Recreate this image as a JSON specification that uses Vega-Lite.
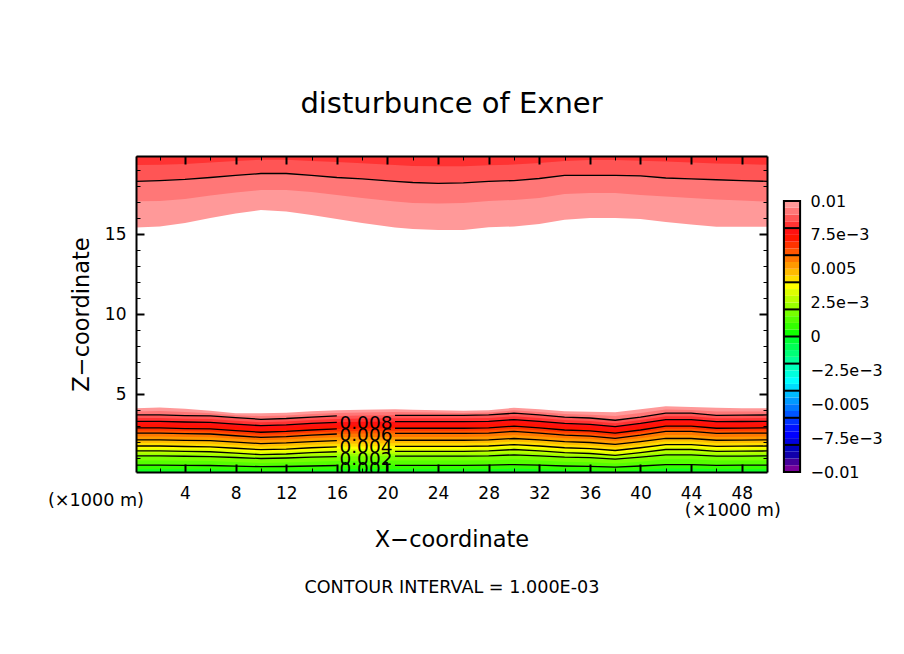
{
  "$schema": "https://vega.github.io/schema/vega-lite/v6.json",
  "background": "white",
  "padding": {"left": 47, "top": 90, "right": 0, "bottom": 0},
  "config": {
    "font": "DejaVu Sans",
    "view": {"stroke": null},
    "axis": {"grid": false, "labelColor": "black", "titleColor": "black", "titleFontWeight": "normal", "labelFontSize": 17, "titleFontSize": 22.5}
  },
  "title": {"text": "CONTOUR INTERVAL = 1.000E-03", "orient": "bottom", "anchor": "start", "dx": 256.5, "offset": 28, "fontSize": 17.6, "fontWeight": "normal", "color": "black"},
  "resolve": {"scale": {"color": "independent"}},
  "datasets": {
    "field": [
      {"x":0.125,"c100":4.11,"c095":3.91,"c090":3.69,"c085":3.5,"c080":3.29,"c075":3.09,"c070":2.88,"c065":2.72,"c060":2.56,"c055":2.34,"c050":2.13,"c045":1.94,"c040":1.75,"c035":1.59,"c030":1.44,"c025":1.28,"c020":1.13,"c015":0.85,"c010":0.55,"c005":0.3,"t100":15.41,"t095":17.04,"t090":18.29,"t085":19.31},
      {"x":2,"c100":4.15,"c095":3.93,"c090":3.69,"c085":3.5,"c080":3.29,"c075":3.09,"c070":2.88,"c065":2.72,"c060":2.56,"c055":2.34,"c050":2.13,"c045":1.94,"c040":1.75,"c035":1.59,"c030":1.44,"c025":1.28,"c020":1.13,"c015":0.85,"c010":0.55,"c005":0.3,"t100":15.47,"t095":17.06,"t090":18.34,"t085":19.33},
      {"x":4,"c100":4.08,"c095":3.88,"c090":3.65,"c085":3.46,"c080":3.25,"c075":3.05,"c070":2.84,"c065":2.68,"c060":2.52,"c055":2.31,"c050":2.1,"c045":1.91,"c040":1.72,"c035":1.56,"c030":1.41,"c025":1.26,"c020":1.11,"c015":0.83,"c010":0.54,"c005":0.29,"t100":15.69,"t095":17.19,"t090":18.41,"t085":19.38},
      {"x":6,"c100":3.95,"c095":3.8,"c090":3.63,"c085":3.44,"c080":3.23,"c075":3.03,"c070":2.82,"c065":2.66,"c060":2.5,"c055":2.29,"c050":2.08,"c045":1.89,"c040":1.7,"c035":1.54,"c030":1.39,"c025":1.24,"c020":1.09,"c015":0.81,"c010":0.53,"c005":0.28,"t100":16.0,"t095":17.41,"t090":18.53,"t085":19.47},
      {"x":8,"c100":3.8,"c095":3.67,"c090":3.52,"c085":3.33,"c080":3.12,"c075":2.92,"c070":2.71,"c065":2.55,"c060":2.39,"c055":2.2,"c050":1.99,"c045":1.8,"c040":1.61,"c035":1.45,"c030":1.3,"c025":1.18,"c020":1.03,"c015":0.75,"c010":0.49,"c005":0.24,"t100":16.28,"t095":17.59,"t090":18.66,"t085":19.56},
      {"x":10,"c100":3.8,"c095":3.62,"c090":3.42,"c085":3.23,"c080":3.02,"c075":2.82,"c070":2.61,"c065":2.45,"c060":2.29,"c055":2.11,"c050":1.9,"c045":1.71,"c040":1.52,"c035":1.36,"c030":1.21,"c025":1.12,"c020":0.97,"c015":0.69,"c010":0.46,"c005":0.21,"t100":16.5,"t095":17.75,"t090":18.78,"t085":19.64},
      {"x":12,"c100":3.83,"c095":3.66,"c090":3.47,"c085":3.28,"c080":3.07,"c075":2.87,"c070":2.66,"c065":2.5,"c060":2.34,"c055":2.15,"c050":1.94,"c045":1.75,"c040":1.56,"c035":1.4,"c030":1.25,"c025":1.15,"c020":1.0,"c015":0.72,"c010":0.47,"c005":0.22,"t100":16.41,"t095":17.75,"t090":18.78,"t085":19.64},
      {"x":14,"c100":3.92,"c095":3.75,"c090":3.56,"c085":3.37,"c080":3.16,"c075":2.96,"c070":2.75,"c065":2.59,"c060":2.43,"c055":2.23,"c050":2.02,"c045":1.83,"c040":1.64,"c035":1.48,"c030":1.33,"c025":1.2,"c020":1.05,"c015":0.77,"c010":0.5,"c005":0.25,"t100":16.19,"t095":17.63,"t090":18.66,"t085":19.56},
      {"x":16,"c100":3.98,"c095":3.82,"c090":3.63,"c085":3.44,"c080":3.23,"c075":3.03,"c070":2.82,"c065":2.66,"c060":2.5,"c055":2.29,"c050":2.08,"c045":1.89,"c040":1.7,"c035":1.54,"c030":1.39,"c025":1.24,"c020":1.09,"c015":0.81,"c010":0.53,"c005":0.28,"t100":15.94,"t095":17.44,"t090":18.53,"t085":19.5},
      {"x":18,"c100":4.02,"c095":3.85,"c090":3.66,"c085":3.47,"c080":3.26,"c075":3.06,"c070":2.85,"c065":2.69,"c060":2.53,"c055":2.31,"c050":2.1,"c045":1.91,"c040":1.72,"c035":1.56,"c030":1.41,"c025":1.26,"c020":1.11,"c015":0.83,"c010":0.54,"c005":0.29,"t100":15.69,"t095":17.25,"t090":18.44,"t085":19.42},
      {"x":20.6,"c100":4.05,"c095":3.87,"c090":3.67,"c085":3.48,"c080":3.27,"c075":3.07,"c070":2.86,"c065":2.7,"c060":2.54,"c055":2.32,"c050":2.11,"c045":1.92,"c040":1.73,"c035":1.57,"c030":1.42,"c025":1.27,"c020":1.12,"c015":0.84,"c010":0.54,"c005":0.29,"t100":15.41,"t095":17.03,"t090":18.29,"t085":19.31},
      {"x":22,"c100":4.02,"c095":3.86,"c090":3.67,"c085":3.48,"c080":3.27,"c075":3.07,"c070":2.86,"c065":2.7,"c060":2.54,"c055":2.32,"c050":2.11,"c045":1.92,"c040":1.73,"c035":1.57,"c030":1.42,"c025":1.27,"c020":1.12,"c015":0.84,"c010":0.54,"c005":0.29,"t100":15.31,"t095":16.94,"t090":18.22,"t085":19.25},
      {"x":24,"c100":3.98,"c095":3.84,"c090":3.67,"c085":3.48,"c080":3.27,"c075":3.07,"c070":2.86,"c065":2.7,"c060":2.54,"c055":2.32,"c050":2.11,"c045":1.92,"c040":1.73,"c035":1.57,"c030":1.42,"c025":1.27,"c020":1.12,"c015":0.84,"c010":0.54,"c005":0.29,"t100":15.25,"t095":16.91,"t090":18.17,"t085":19.23},
      {"x":26,"c100":3.95,"c095":3.82,"c090":3.67,"c085":3.48,"c080":3.27,"c075":3.07,"c070":2.86,"c065":2.7,"c060":2.54,"c055":2.32,"c050":2.11,"c045":1.92,"c040":1.73,"c035":1.57,"c030":1.42,"c025":1.27,"c020":1.12,"c015":0.84,"c010":0.54,"c005":0.29,"t100":15.25,"t095":16.94,"t090":18.19,"t085":19.23},
      {"x":28,"c100":3.98,"c095":3.85,"c090":3.69,"c085":3.5,"c080":3.29,"c075":3.09,"c070":2.88,"c065":2.72,"c060":2.56,"c055":2.34,"c050":2.13,"c045":1.94,"c040":1.75,"c035":1.59,"c030":1.44,"c025":1.28,"c020":1.13,"c015":0.85,"c010":0.55,"c005":0.3,"t100":15.42,"t095":17.06,"t090":18.29,"t085":19.29},
      {"x":30,"c100":4.14,"c095":3.98,"c090":3.8,"c085":3.61,"c080":3.4,"c075":3.2,"c070":2.99,"c065":2.83,"c060":2.67,"c055":2.43,"c050":2.22,"c045":2.03,"c040":1.84,"c035":1.68,"c030":1.53,"c025":1.35,"c020":1.2,"c015":0.92,"c010":0.59,"c005":0.34,"t100":15.47,"t095":17.13,"t090":18.34,"t085":19.34},
      {"x":32,"c100":4.05,"c095":3.88,"c090":3.69,"c085":3.5,"c080":3.29,"c075":3.09,"c070":2.88,"c065":2.72,"c060":2.56,"c055":2.34,"c050":2.13,"c045":1.94,"c040":1.75,"c035":1.59,"c030":1.44,"c025":1.28,"c020":1.13,"c015":0.85,"c010":0.55,"c005":0.3,"t100":15.63,"t095":17.25,"t090":18.47,"t085":19.44},
      {"x":34,"c100":3.92,"c095":3.75,"c090":3.56,"c085":3.37,"c080":3.16,"c075":2.96,"c070":2.75,"c065":2.59,"c060":2.43,"c055":2.23,"c050":2.02,"c045":1.83,"c040":1.64,"c035":1.48,"c030":1.33,"c025":1.2,"c020":1.05,"c015":0.77,"c010":0.5,"c005":0.25,"t100":15.89,"t095":17.5,"t090":18.66,"t085":19.56},
      {"x":36,"c100":3.89,"c095":3.71,"c090":3.5,"c085":3.31,"c080":3.1,"c075":2.9,"c070":2.69,"c065":2.53,"c060":2.37,"c055":2.18,"c050":1.97,"c045":1.78,"c040":1.59,"c035":1.43,"c030":1.28,"c025":1.17,"c020":1.02,"c015":0.74,"c010":0.48,"c005":0.23,"t100":16.0,"t095":17.56,"t090":18.67,"t085":19.63},
      {"x":38,"c100":3.86,"c095":3.62,"c090":3.36,"c085":3.17,"c080":2.96,"c075":2.76,"c070":2.55,"c065":2.39,"c060":2.23,"c055":2.06,"c050":1.85,"c045":1.66,"c040":1.47,"c035":1.31,"c030":1.16,"c025":1.08,"c020":0.93,"c015":0.65,"c010":0.43,"c005":0.18,"t100":16.0,"t095":17.56,"t090":18.67,"t085":19.63},
      {"x":40,"c100":4.05,"c095":3.82,"c090":3.56,"c085":3.37,"c080":3.16,"c075":2.96,"c070":2.75,"c065":2.59,"c060":2.43,"c055":2.23,"c050":2.02,"c045":1.83,"c040":1.64,"c035":1.48,"c030":1.33,"c025":1.2,"c020":1.05,"c015":0.77,"c010":0.5,"c005":0.25,"t100":15.94,"t095":17.44,"t090":18.63,"t085":19.58},
      {"x":42,"c100":4.24,"c095":4.03,"c090":3.8,"c085":3.61,"c080":3.4,"c075":3.2,"c070":2.99,"c065":2.83,"c060":2.67,"c055":2.43,"c050":2.22,"c045":2.03,"c040":1.84,"c035":1.68,"c030":1.53,"c025":1.35,"c020":1.2,"c015":0.92,"c010":0.59,"c005":0.34,"t100":15.75,"t095":17.34,"t090":18.5,"t085":19.53},
      {"x":44,"c100":4.19,"c095":4.0,"c090":3.8,"c085":3.61,"c080":3.4,"c075":3.2,"c070":2.99,"c065":2.83,"c060":2.67,"c055":2.43,"c050":2.22,"c045":2.03,"c040":1.84,"c035":1.68,"c030":1.53,"c025":1.35,"c020":1.2,"c015":0.92,"c010":0.59,"c005":0.34,"t100":15.59,"t095":17.25,"t090":18.44,"t085":19.47},
      {"x":46,"c100":4.14,"c095":3.91,"c090":3.67,"c085":3.48,"c080":3.27,"c075":3.07,"c070":2.86,"c065":2.7,"c060":2.54,"c055":2.32,"c050":2.11,"c045":1.92,"c040":1.73,"c035":1.57,"c030":1.42,"c025":1.27,"c020":1.12,"c015":0.84,"c010":0.54,"c005":0.29,"t100":15.46,"t095":17.16,"t090":18.39,"t085":19.41},
      {"x":48,"c100":4.11,"c095":3.91,"c090":3.68,"c085":3.49,"c080":3.28,"c075":3.08,"c070":2.87,"c065":2.71,"c060":2.55,"c055":2.33,"c050":2.12,"c045":1.93,"c040":1.74,"c035":1.58,"c030":1.43,"c025":1.27,"c020":1.12,"c015":0.84,"c010":0.55,"c005":0.3,"t100":15.46,"t095":17.09,"t090":18.34,"t085":19.38},
      {"x":50,"c100":4.11,"c095":3.91,"c090":3.69,"c085":3.5,"c080":3.29,"c075":3.09,"c070":2.88,"c065":2.72,"c060":2.56,"c055":2.34,"c050":2.13,"c045":1.94,"c040":1.75,"c035":1.59,"c030":1.44,"c025":1.28,"c020":1.13,"c015":0.85,"c010":0.55,"c005":0.3,"t100":15.46,"t095":17.02,"t090":18.29,"t085":19.33}
    ]
  },
  "hconcat": [
    {
      "width": 631,
      "height": 316,
      "title": {"text": "disturbunce of Exner", "fontSize": 29, "fontWeight": "normal", "color": "black", "offset": 36},
      "data": {"name": "field"},
      "resolve": {"axis": {"x": "independent", "y": "independent"}},
      "layer": [
        {
          "transform": [
            {"fold": ["c100","c095","c090","c085","c080","c075","c070","c065","c060","c055","c050","c045","c040","c035","c030","c025","c020","c015","c010","c005"], "as": ["level", "z"]}
          ],
          "mark": {"type": "area", "clip": true},
          "encoding": {
            "x": {
              "field": "x", "type": "quantitative",
              "scale": {"domain": [0.125, 50], "nice": false, "zero": false},
              "axis": {"orient": "bottom", "title": "X−coordinate", "titlePadding": 27, "values": [4,8,12,16,20,24,28,32,36,40,44,48], "labelPadding": 21, "labelFlush": false, "tickSize": -8, "tickWidth": 2, "tickColor": "black", "domainColor": "black", "domainWidth": 2, "zindex": 1}
            },
            "y": {
              "field": "z", "type": "quantitative", "stack": null,
              "scale": {"domain": [0.125, 19.875], "nice": false, "zero": false},
              "axis": {"orient": "left", "title": "Z−coordinate", "titlePadding": 11, "values": [5,10,15], "labelPadding": 18, "tickSize": -8, "tickWidth": 2, "tickColor": "black", "domainColor": "black", "domainWidth": 2, "zindex": 1}
            },
            "y2": {"datum": 0.125},
            "color": {
              "field": "level", "type": "nominal", "legend": null,
              "scale": {
                "domain": ["c100","c095","c090","c085","c080","c075","c070","c065","c060","c055","c050","c045","c040","c035","c030","c025","c020","c015","c010","c005","t100","t095","t090","t085"],
                "range": ["#ff9999","#ff7777","#ff5555","#ff3333","#ff1111","#ff1500","#ff3300","#ff5500","#ff7700","#ff9900","#ffbb00","#ffdd00","#ffff00","#ddff00","#bbff00","#99ff00","#77ff00","#55ff00","#33ff00","#11ff22","#ff9999","#ff7777","#ff5555","#ff3333"]
              }
            }
          }
        },
        {
          "transform": [
            {"fold": ["t100","t095","t090","t085"], "as": ["level", "z"]}
          ],
          "mark": {"type": "area", "clip": true},
          "encoding": {
            "x": {
              "field": "x", "type": "quantitative",
              "axis": {"orient": "top", "title": null, "values": [4,8,12,16,20,24,28,32,36,40,44,48], "labels": false, "tickSize": -8, "tickWidth": 2, "tickColor": "black", "domainColor": "black", "domainWidth": 2, "zindex": 1}
            },
            "y": {
              "field": "z", "type": "quantitative", "stack": null,
              "axis": {"orient": "right", "title": null, "values": [5,10,15], "labels": false, "tickSize": -8, "tickWidth": 2, "tickColor": "black", "domainColor": "black", "domainWidth": 2, "zindex": 1}
            },
            "y2": {"datum": 19.875},
            "color": {"field": "level", "type": "nominal", "legend": null}
          }
        },
        {
          "transform": [
            {"fold": ["c090","c080","c070","c060","c050","c040","c030","c020","c010"], "as": ["level", "z"]},
            {"filter": "datum.x <= 16"}
          ],
          "mark": {"type": "line", "color": "black", "strokeWidth": 1.3, "clip": true},
          "encoding": {
            "x": {
              "field": "x", "type": "quantitative",
              "axis": {"orient": "bottom", "title": null, "values": [2,6,10,14,18,22,26,30,34,38,42,46], "labels": false, "tickSize": -4, "tickWidth": 1, "tickColor": "black", "domain": false, "zindex": 1}
            },
            "y": {
              "field": "z", "type": "quantitative",
              "axis": {"orient": "left", "title": null, "values": [1,2,3,4,6,7,8,9,11,12,13,14,16,17,18,19], "labels": false, "tickSize": -4, "tickWidth": 1, "tickColor": "black", "domain": false, "zindex": 1}
            },
            "detail": {"field": "level"}
          }
        },
        {
          "transform": [
            {"fold": ["c090","c080","c070","c060","c050","c040","c030","c020","c010"], "as": ["level", "z"]},
            {"filter": "datum.x >= 20.6"}
          ],
          "mark": {"type": "line", "color": "black", "strokeWidth": 1.3, "clip": true},
          "encoding": {
            "x": {
              "field": "x", "type": "quantitative",
              "axis": {"orient": "top", "title": null, "values": [2,6,10,14,18,22,26,30,34,38,42,46], "labels": false, "tickSize": -4, "tickWidth": 1, "tickColor": "black", "domain": false, "zindex": 1}
            },
            "y": {
              "field": "z", "type": "quantitative",
              "axis": {"orient": "right", "title": null, "values": [1,2,3,4,6,7,8,9,11,12,13,14,16,17,18,19], "labels": false, "tickSize": -4, "tickWidth": 1, "tickColor": "black", "domain": false, "zindex": 1}
            },
            "detail": {"field": "level"}
          }
        },
        {
          "mark": {"type": "line", "color": "black", "strokeWidth": 1.3},
          "encoding": {
            "x": {"field": "x", "type": "quantitative", "axis": null},
            "y": {"field": "t090", "type": "quantitative", "axis": null}
          }
        },
        {
          "data": {"values": [
            {"x": 18.3, "z": 3.19, "label": "0.008"},
            {"x": 18.3, "z": 2.44, "label": "0.006"},
            {"x": 18.3, "z": 1.69, "label": "0.004"},
            {"x": 18.3, "z": 0.94, "label": "0.002"},
            {"x": 18.3, "z": 0.31, "label": "0.001"}
          ]},
          "mark": {"type": "text", "fontSize": 18.5, "color": "black", "clip": true},
          "encoding": {
            "x": {"field": "x", "type": "quantitative", "axis": null},
            "y": {"field": "z", "type": "quantitative", "axis": null},
            "text": {"field": "label"}
          }
        },
        {
          "data": {"values": [
            {"x": -3.04, "z": -1.69, "label": "(×1000 m)"},
            {"x": 47.3, "z": -2.31, "label": "(×1000 m)"}
          ]},
          "mark": {"type": "text", "fontSize": 17.6, "color": "black"},
          "encoding": {
            "x": {"field": "x", "type": "quantitative", "axis": null},
            "y": {"field": "z", "type": "quantitative", "axis": null},
            "text": {"field": "label"}
          }
        }
      ]
    },
    {
      "width": 18,
      "height": 316,
      "resolve": {"axis": {"y": "independent"}},
      "data": {"values": [
        {"lo":-0.01,"hi":-0.0095},{"lo":-0.0095,"hi":-0.009},{"lo":-0.009,"hi":-0.0085},{"lo":-0.0085,"hi":-0.008},
        {"lo":-0.008,"hi":-0.0075},{"lo":-0.0075,"hi":-0.007},{"lo":-0.007,"hi":-0.0065},{"lo":-0.0065,"hi":-0.006},
        {"lo":-0.006,"hi":-0.0055},{"lo":-0.0055,"hi":-0.005},{"lo":-0.005,"hi":-0.0045},{"lo":-0.0045,"hi":-0.004},
        {"lo":-0.004,"hi":-0.0035},{"lo":-0.0035,"hi":-0.003},{"lo":-0.003,"hi":-0.0025},{"lo":-0.0025,"hi":-0.002},
        {"lo":-0.002,"hi":-0.0015},{"lo":-0.0015,"hi":-0.001},{"lo":-0.001,"hi":-0.0005},{"lo":-0.0005,"hi":0},
        {"lo":0,"hi":0.0005},{"lo":0.0005,"hi":0.001},{"lo":0.001,"hi":0.0015},{"lo":0.0015,"hi":0.002},
        {"lo":0.002,"hi":0.0025},{"lo":0.0025,"hi":0.003},{"lo":0.003,"hi":0.0035},{"lo":0.0035,"hi":0.004},
        {"lo":0.004,"hi":0.0045},{"lo":0.0045,"hi":0.005},{"lo":0.005,"hi":0.0055},{"lo":0.0055,"hi":0.006},
        {"lo":0.006,"hi":0.0065},{"lo":0.0065,"hi":0.007},{"lo":0.007,"hi":0.0075},{"lo":0.0075,"hi":0.008},
        {"lo":0.008,"hi":0.0085},{"lo":0.0085,"hi":0.009},{"lo":0.009,"hi":0.0095},{"lo":0.0095,"hi":0.01}
      ]},
      "layer": [
        {
          "mark": "rect",
          "encoding": {
            "y": {
              "field": "lo", "type": "quantitative",
              "scale": {"domain": [-0.01, 0.01], "range": [316, 45], "nice": false, "zero": false},
              "axis": {"orient": "right", "title": null, "domain": false, "ticks": false, "labelPadding": 9, "labelFlush": false, "labelFontSize": 16,
                "values": [-0.01,-0.0075,-0.005,-0.0025,0,0.0025,0.005,0.0075,0.01],
                "labelExpr": "{'-0.01':'−0.01','-0.0075':'−7.5e−3','-0.005':'−0.005','-0.0025':'−2.5e−3','0':'0','0.0025':'2.5e−3','0.005':'0.005','0.0075':'7.5e−3','0.01':'0.01'}[datum.value + '']"}
            },
            "y2": {"field": "hi"},
            "color": {
              "field": "lo", "type": "ordinal", "legend": null,
              "scale": {
                "domain": [-0.01,-0.0095,-0.009,-0.0085,-0.008,-0.0075,-0.007,-0.0065,-0.006,-0.0055,-0.005,-0.0045,-0.004,-0.0035,-0.003,-0.0025,-0.002,-0.0015,-0.001,-0.0005,0,0.0005,0.001,0.0015,0.002,0.0025,0.003,0.0035,0.004,0.0045,0.005,0.0055,0.006,0.0065,0.007,0.0075,0.008,0.0085,0.009,0.0095],
                "range": ["#770099","#440099","#1100aa","#0000bb","#0000dd","#0000ff","#0011ff","#0033ff","#0055ff","#0077ff","#0099ff","#00bbff","#00ddff","#00ffff","#00ffdd","#00ffbb","#00ff99","#00ff77","#00ff55","#00ff33","#11ff00","#33ff00","#55ff00","#77ff00","#99ff00","#bbff00","#ddff00","#ffff00","#ffdd00","#ffbb00","#ff9900","#ff7700","#ff5500","#ff3300","#ff1500","#ff1111","#ff3333","#ff5555","#ff7777","#ff9999"]
              }
            }
          }
        },
        {
          "transform": [{"filter": "indexof([-0.008,-0.006,-0.004,-0.002,0,0.002,0.004,0.006,0.008], datum.lo) >= 0"}],
          "mark": {"type": "rule", "color": "black", "strokeWidth": 2},
          "encoding": {"y": {"field": "lo", "type": "quantitative", "axis": null}}
        },
        {
          "transform": [{"filter": "datum.lo == -0.01"}],
          "mark": {"type": "bar", "fillOpacity": 0, "stroke": "black", "strokeWidth": 2},
          "encoding": {
            "y": {"datum": 0.01, "type": "quantitative", "axis": null},
            "y2": {"datum": -0.01}
          }
        }
      ]
    }
  ],
  "spacing": 16,
  "bounds": "flush"
}
